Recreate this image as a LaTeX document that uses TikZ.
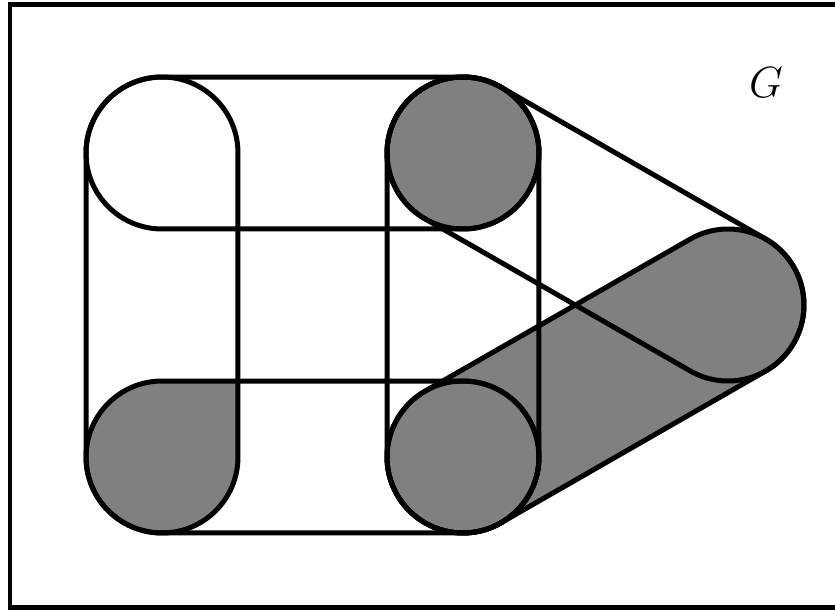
\documentclass[tikz,border=0pt]{standalone}
\usetikzlibrary{calc}
\tikzset{
  hedge/.style={draw, line width=0.1cm, line join=round},
  shade/.style={fill=black!50}
}
% capsule round two vertices
\newcommand{\capsule}[3][]{%
  \path[#1] let \p1=($(#3)-(#2)$), \n1={atan2(\y1,\x1)} in
    ($(#2)+(\n1+90:1.52cm)$) -- ($(#3)+(\n1+90:1.52cm)$)
    arc[start angle=\n1+90, end angle=\n1-90, radius=1.52cm]
    -- ($(#2)+(\n1-90:1.52cm)$)
    arc[start angle=\n1-90, end angle=\n1-270, radius=1.52cm] -- cycle;}

\begin{document}
\begin{tikzpicture}[x=0.02cm, y=0.02cm]
  \clip (0,0) rectangle (835,610);
  % vertices
  \coordinate (v1) at (162,457);
  \coordinate (v2) at (463,457);
  \coordinate (v3) at (728,305);
  \coordinate (v4) at (162,153);
  \coordinate (v5) at (463,153);
  % fills
  \fill[shade] (v4) circle[radius=1.52cm];
  \fill[shade] (v4) rectangle ($(v4)+(76,76)$);
  \capsule[shade]{v5}{v3}
  \fill[shade] (v2) circle[radius=1.52cm];
  \fill[shade] (v5) circle[radius=1.52cm];
  % edges
  \capsule[hedge]{v1}{v2}
  \capsule[hedge]{v1}{v4}
  \capsule[hedge]{v2}{v5}
  \capsule[hedge]{v4}{v5}
  \capsule[hedge]{v2}{v3}
  \capsule[hedge]{v5}{v3}
  \draw[hedge] (v2) circle[radius=1.52cm];
  \draw[hedge] (v5) circle[radius=1.52cm];
  % frame and label
  \draw[line width=0.1cm] (10,605.8) rectangle (900,2.5);
  \node (g) at (766,527) {\fontsize{24}{28}\selectfont $G$};
\end{tikzpicture}
\end{document}
